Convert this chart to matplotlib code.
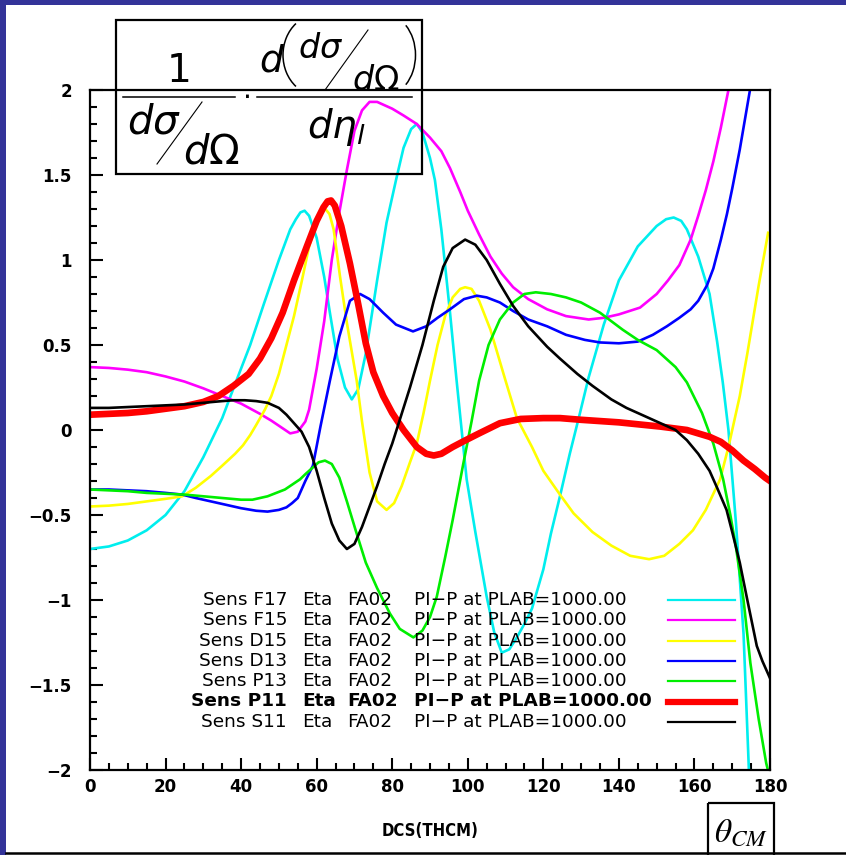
import matplotlib
matplotlib.use("Agg")
import matplotlib.pyplot as plt
from matplotlib.ticker import MultipleLocator
from matplotlib.patches import Rectangle, Arc
from matplotlib.lines import Line2D

#---------DATA---------------------------------
th_F17 = [0, 5, 10, 15, 20, 25, 30, 35, 38.4, 42.4, 46, 50, 53, 54.5, 55.7, 56.8, 58, 60, 62, 63.5, 65.5,
          67.5, 69.3, 71, 73, 76, 78.5, 81, 83, 85, 86.5, 88, 90, 91.3, 93, 95.3, 97, 99.7, 102,
          105, 107, 109, 111, 113, 115, 117, 120, 122, 124.4, 127, 129.7, 132, 136, 140, 145, 150,
          152.5, 154.5, 156.5, 158, 161, 164, 166, 167.5, 169, 171, 173, 174.5]
F17 = [-0.70, -0.685, -0.65, -0.59, -0.50, -0.36, -0.16, 0.07, 0.27, 0.50, 0.74, 1.00, 1.18, 1.24, 1.28,
       1.29, 1.26, 1.13, 0.90, 0.69, 0.42, 0.25, 0.18, 0.24, 0.45, 0.88, 1.22, 1.47, 1.66, 1.77, 1.80,
       1.75, 1.60, 1.47, 1.18, 0.69, 0.30, -0.29, -0.60, -0.98, -1.19, -1.31, -1.29, -1.22, -1.14,
       -1.05, -0.82, -0.61, -0.39, -0.14, 0.10, 0.31, 0.62, 0.88, 1.08, 1.20, 1.24, 1.25, 1.23, 1.18,
       1.02, 0.80, 0.52, 0.28, 0.0, -0.55, -1.2, -2.05]

th_F15 = [0, 5, 10, 15, 20, 25, 30, 35, 40, 45, 48, 51, 53, 55, 57, 58, 60, 62, 64, 66, 68, 70, 72,
          74, 76, 78, 80, 83, 86.5, 90, 93, 95.3, 98, 100, 103, 106, 109, 112, 116, 121, 126, 132,
          136, 140, 145.6, 150, 153, 156, 159, 161, 163, 165, 167, 169, 170.5]
F15 = [0.37, 0.365, 0.355, 0.34, 0.315, 0.285, 0.245, 0.20, 0.155, 0.095, 0.055, 0.01, -0.02, -0.01,
       0.05, 0.12, 0.36, 0.64, 1.0, 1.28, 1.53, 1.76, 1.88, 1.93, 1.93, 1.91, 1.89, 1.85, 1.80, 1.72,
       1.64, 1.54, 1.40, 1.29, 1.15, 1.02, 0.92, 0.84, 0.77, 0.71, 0.67, 0.65, 0.66, 0.68, 0.72, 0.80,
       0.88, 0.97, 1.12, 1.26, 1.41, 1.58, 1.78, 2.0, 2.15]

th_D15 = [0, 5, 10, 15, 20, 24.4, 28, 32, 35, 38.4, 40.5, 42.4, 44, 46.3, 48, 50, 52, 54, 56, 58, 60,
          61.2, 62.3, 63.4, 64.5, 66.2, 68, 70.6, 72, 74, 76, 78.5, 80.5, 82.5, 84.7, 86.5, 88.3, 90,
          92, 94, 96, 98, 99.3, 101, 103, 106, 110, 113, 117, 120, 124.4, 128, 133, 138, 143, 148,
          152, 156, 159.6, 163, 166.8, 169, 172, 174, 177, 179.5]
D15 = [-0.45, -0.445, -0.435, -0.42, -0.405, -0.39, -0.34, -0.27, -0.21, -0.14, -0.09, -0.03, 0.03,
       0.12, 0.20, 0.33, 0.50, 0.67, 0.87, 1.08, 1.22, 1.28, 1.30, 1.27, 1.18, 0.90, 0.63, 0.29, 0.05,
       -0.25, -0.42, -0.47, -0.43, -0.33, -0.19, -0.08, 0.10, 0.29, 0.50, 0.67, 0.78, 0.83, 0.84,
       0.83, 0.76, 0.59, 0.29, 0.07, -0.10, -0.24, -0.38, -0.49, -0.60, -0.68, -0.74, -0.76, -0.74,
       -0.67, -0.59, -0.47, -0.29, -0.10, 0.20, 0.45, 0.85, 1.16]

th_D13 = [0, 5, 10, 15, 20, 24.4, 28, 32, 36, 40, 44, 47, 50, 52, 53.5, 55, 57, 59, 61, 63.5, 66,
          68.8, 71.5, 74, 77.6, 81, 85.5, 89, 92, 95.3, 99, 102.4, 105, 108.5, 112, 116, 121, 126,
          131, 135, 140, 145, 149, 152.7, 156, 159, 161, 163.3, 165, 167, 168.6, 170, 172, 174.7,
          175.5]
D13 = [-0.35, -0.35, -0.355, -0.36, -0.37, -0.38, -0.40, -0.42, -0.44, -0.46, -0.475, -0.48, -0.47,
       -0.455, -0.43, -0.40, -0.30, -0.21, 0.02, 0.29, 0.55, 0.76, 0.80, 0.77, 0.69, 0.62, 0.58, 0.61,
       0.66, 0.71, 0.77, 0.79, 0.78, 0.75, 0.70, 0.65, 0.61, 0.56, 0.53, 0.515, 0.51, 0.52, 0.56,
       0.61, 0.66, 0.71, 0.76, 0.85, 0.95, 1.12, 1.27, 1.42, 1.65, 2.0, 2.12]

th_P13 = [0, 5, 10, 15, 20, 25, 30, 35, 40, 43, 47, 51.6, 55.6, 57, 59, 60.5, 62.2, 64, 66, 68, 70.6,
          73, 76, 79.4, 82, 85.6, 88, 90, 91.8, 94, 96, 98.8, 101, 103, 105.5, 108.5, 112, 115, 118,
          122, 126, 130, 135, 141, 145, 150, 155, 158, 162, 165, 167.6, 169.5, 171, 173, 174.8, 177,
          179, 180]
P13 = [-0.35, -0.355, -0.36, -0.37, -0.375, -0.38, -0.39, -0.40, -0.41, -0.41, -0.39, -0.35, -0.29,
       -0.26, -0.22, -0.19, -0.18, -0.20, -0.28, -0.42, -0.61, -0.78, -0.93, -1.08, -1.17, -1.22,
       -1.18, -1.10, -0.98, -0.75, -0.53, -0.20, 0.05, 0.29, 0.50, 0.65, 0.75, 0.80, 0.81, 0.80,
       0.78, 0.75, 0.69, 0.59, 0.53, 0.47, 0.37, 0.28, 0.10, -0.08, -0.29, -0.50, -0.69, -1.0,
       -1.37, -1.70, -1.96, -2.05]

th_P11 = [0, 5, 10, 15, 20, 25, 30, 34, 38, 42, 45, 48, 51, 54, 57.4, 60, 61.8, 62.9, 63.8, 64.8, 66.5,
          68.8, 71, 73, 75, 77.6, 80, 83, 86.5, 89, 91, 93, 96, 99, 103, 108.5, 114, 120, 124.4, 130,
          140, 151, 158, 164, 167, 170, 173, 176, 178.7, 180]
P11 = [0.09, 0.095, 0.10, 0.11, 0.125, 0.14, 0.165, 0.20, 0.26, 0.33, 0.42, 0.54, 0.69, 0.88, 1.08,
       1.23, 1.31, 1.345, 1.35, 1.32, 1.20, 0.98, 0.74, 0.51, 0.34, 0.20, 0.10, 0.0, -0.10, -0.14,
       -0.15, -0.14, -0.10, -0.065, -0.02, 0.04, 0.065, 0.07, 0.07, 0.06, 0.045, 0.02, 0.0, -0.04,
       -0.07, -0.12, -0.18, -0.23, -0.28, -0.30]

th_S11 = [0, 5, 10, 15, 20, 25, 30, 35, 38, 41, 44, 47, 50, 52, 54, 56, 58, 60, 62, 64, 66, 68, 70,
          72, 74, 76, 78, 80, 82, 84.7, 88, 91, 93.5, 96, 99.3, 102, 105, 108.5, 112, 116, 121, 124.4,
          129, 133, 138, 142, 146, 149, 152, 155, 158, 161, 164, 166, 168.5, 170, 172, 174, 176.5,
          178, 180]
S11 = [0.13, 0.13, 0.135, 0.14, 0.145, 0.15, 0.16, 0.17, 0.175, 0.175, 0.17, 0.16, 0.13, 0.09, 0.04,
       -0.01, -0.10, -0.24, -0.40, -0.55, -0.65, -0.70, -0.67, -0.57, -0.45, -0.33, -0.20, -0.08,
       0.06, 0.25, 0.50, 0.76, 0.96, 1.07, 1.12, 1.09, 1.00, 0.86, 0.73, 0.61, 0.49, 0.42, 0.33,
       0.26, 0.18, 0.13, 0.09, 0.06, 0.03, 0.0, -0.06, -0.14, -0.24, -0.34, -0.47, -0.60, -0.78,
       -1.0, -1.27, -1.36, -1.46]

names = ["F17", "F15", "D15", "D13", "P13", "P11", "S11"]
thetas = [th_F17, th_F15, th_D15, th_D13, th_P13, th_P11, th_S11]
values = [F17, F15, D15, D13, P13, P11, S11]
colors = ["#00eeee", "#ff00ff", "#ffff00", "#0000ff", "#00ee00", "#ff0000", "#000000"]

x_ticks = [0, 20, 40, 60, 80, 100, 120, 140, 160, 180]
y_ticks = [-2, -1.5, -1, -0.5, 0, 0.5, 1, 1.5, 2]
y_ticklabels = ["\u22122", "\u22121.5", "\u22121", "\u22120.5", "0", "0.5", "1", "1.5", "2"]

#---------FIGURE----------
W, H = 846, 855
fig = plt.figure(figsize=(W / 100, H / 100), dpi=100)
fig.patch.set_facecolor("white")

ax = fig.add_axes([90 / W, (H - 770) / H, 680 / W, 680 / H])
for name, th, v, c in zip(names, thetas, values, colors):
    lw = 4.8 if name == "P11" else 1.9
    ax.plot(th, v, color=c, lw=lw, solid_joinstyle="round")

ax.set_xlim(0, 180)
ax.set_ylim(-2, 2)
ax.set_xticks(x_ticks)
ax.set_yticks(y_ticks)
ax.set_yticklabels(y_ticklabels)
ax.xaxis.set_minor_locator(MultipleLocator(5))
ax.yaxis.set_minor_locator(MultipleLocator(0.1))
ax.tick_params(which="both", direction="in", top=False, right=False, width=1.5, labelsize=12)
ax.tick_params(which="major", length=9)
ax.tick_params(which="minor", length=5)
ax.tick_params(axis="y", pad=13)
ax.tick_params(axis="x", pad=6)
for lab in ax.get_xticklabels() + ax.get_yticklabels():
    lab.set_fontweight("bold")
for s in ax.spines.values():
    s.set_linewidth(1.6)

#---------LEGEND (text + line samples)----------
row0, dy = 600, 20.3
for i, (name, c) in enumerate(zip(names, colors)):
    y = 1 - (row0 + i * dy) / H
    bold = "bold" if name == "P11" else "normal"
    kw = dict(fontsize=13.3, fontweight=bold, va="center", family="DejaVu Sans")
    fig.text(287 / W, y, "Sens " + name, ha="right", **kw)
    fig.text(302 / W, y, "Eta", ha="left", **kw)
    fig.text(347 / W, y, "FA02", ha="left", **kw)
    fig.text(414 / W, y, "PI\u2212P at PLAB=1000.00", ha="left", **kw)
    fig.add_artist(Line2D([668 / W, 735 / W], [y, y], color=c,
                          lw=4.5 if name == "P11" else 1.6))

#---------OVERLAY IN PIXEL COORDS: frame, formula, labels----------
ov = fig.add_axes([0, 0, 1, 1])
ov.set_xlim(0, W)
ov.set_ylim(H, 0)
ov.axis("off")
ov.patch.set_visible(False)

# page frame
ov.add_patch(Rectangle((0, 0), 6, H, color="#333399", lw=0))
ov.add_patch(Rectangle((0, 0), W, 5, color="#333399", lw=0))
ov.plot([6, W], [853, 853], color="black", lw=1.8)

# formula box
ov.add_patch(Rectangle((116, 20), 306, 154, fill=False, ec="black", lw=1.6))
ov.text(179, 82, "1", fontsize=28, ha="center", va="baseline", family="DejaVu Sans")
ov.plot([123, 235], [97, 97], color="black", lw=1.1)
ov.text(127, 133, r"$d\sigma$", fontsize=29, ha="left", va="baseline")
ov.plot([157, 202], [164, 102], color="black", lw=0.8)
ov.text(183, 163, r"$d\Omega$", fontsize=29, ha="left", va="baseline")
ov.text(246, 97, r"$\cdot$", fontsize=20, ha="center", va="center")
ov.plot([257, 412], [97, 97], color="black", lw=1.1)
ov.text(259, 72, r"$d$", fontsize=27, ha="left", va="baseline")
ov.add_patch(Arc((318, 55), 70, 81, theta1=125, theta2=235, lw=1.1, color="black"))
ov.text(298, 58, r"$d\sigma$", fontsize=24, ha="left", va="baseline")
ov.plot([325, 368], [90, 30], color="black", lw=0.8)
ov.text(352, 90, r"$d\Omega$", fontsize=24, ha="left", va="baseline")
ov.add_patch(Arc((385, 55), 61, 81, theta1=-55, theta2=55, lw=1.1, color="black"))
ov.text(307, 138, r"$d\eta_{l}$", fontsize=28, ha="left", va="baseline")

# axis title and theta box
ov.text(430, 831, "DCS(THCM)", fontsize=12, fontweight="bold", ha="center", va="center",
        family="DejaVu Sans", fontstretch="condensed")
ov.add_patch(Rectangle((708, 803), 66, 60, fill=False, ec="black", lw=1.6))
ov.text(741, 832, r"$\theta_{CM}$", fontsize=24, ha="center", va="center", math_fontfamily="stix")

fig.savefig("out.png", dpi=100)
